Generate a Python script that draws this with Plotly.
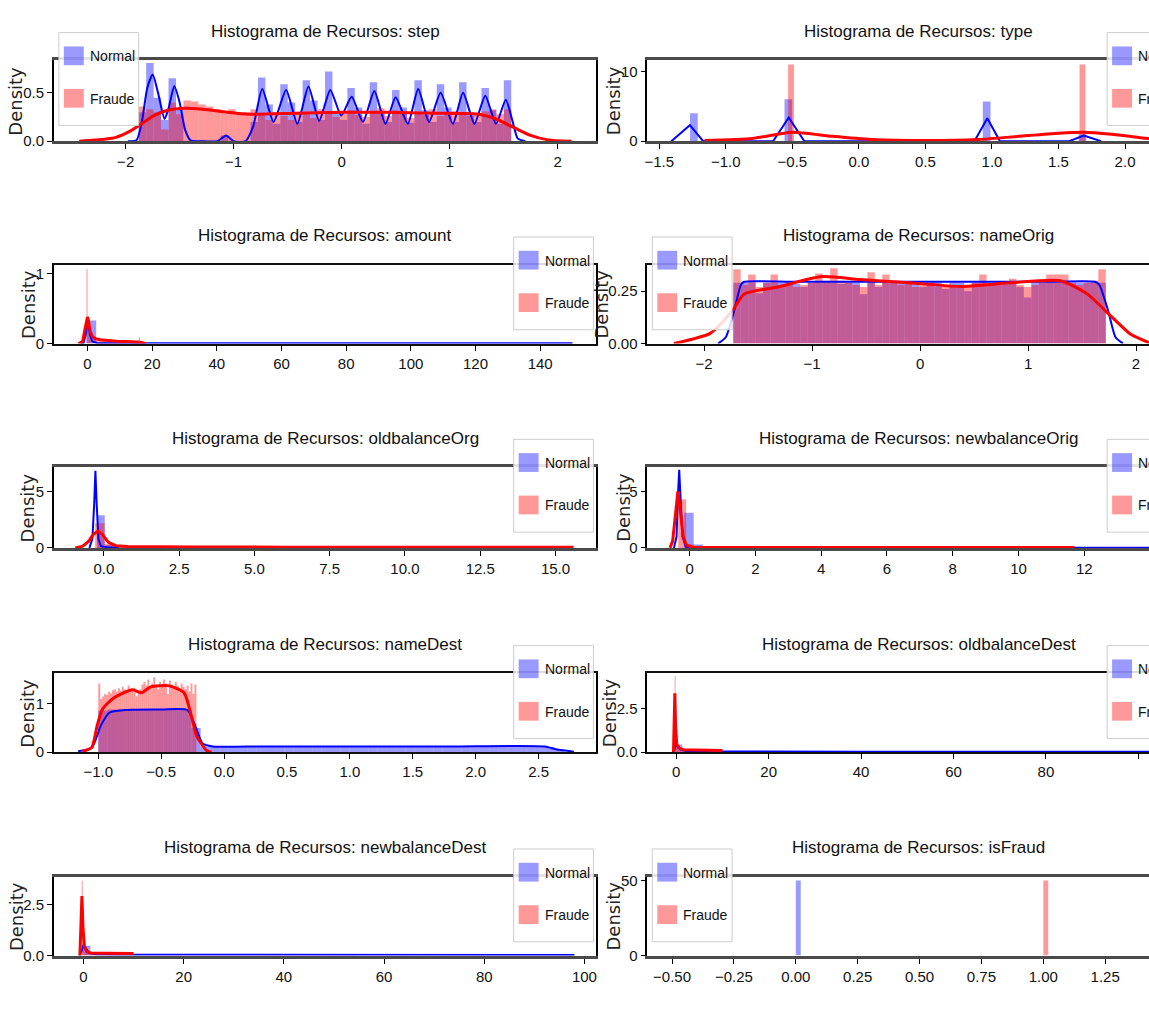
import numpy as np
import plotly.graph_objects as go

W, H = 1149, 1009

# ======================= DATA =======================
FEATURES = ["step", "type", "amount", "nameOrig", "oldbalanceOrg",
            "newbalanceOrig", "nameDest", "oldbalanceDest", "newbalanceDest", "isFraud"]
LABELS = ["Normal", "Fraude"]

# ---- step ----
step_normal_bin_start, step_normal_bin_width = -1.879, 0.069
step_normal_hist = [0.30, 0.81, 0.45, 0.22, 0.65, 0.33, 0.0, 0.0, 0.0, 0.0,
                    0.0, 0.06, 0.0, 0.0, 0.0, 0.20, 0.66, 0.38, 0.18, 0.59,
                    0.40, 0.20, 0.63, 0.42, 0.22, 0.72, 0.30, 0.22, 0.55, 0.35,
                    0.18, 0.61, 0.30, 0.20, 0.53, 0.35, 0.19, 0.63, 0.32, 0.20,
                    0.59, 0.35, 0.20, 0.61, 0.30, 0.20, 0.55, 0.32, 0.18, 0.63]
step_fraud_bin_start, step_fraud_bin_width = -1.879, 0.069
step_fraud_hist = [0.36, 0.33, 0.30, 0.12, 0.40, 0.28, 0.42, 0.41, 0.38, 0.36,
                   0.33, 0.31, 0.33, 0.30, 0.30, 0.33, 0.28, 0.22, 0.30, 0.26,
                   0.22, 0.30, 0.28, 0.24, 0.33, 0.30, 0.25, 0.29, 0.32, 0.27,
                   0.25, 0.31, 0.34, 0.26, 0.32, 0.29, 0.24, 0.30, 0.27, 0.33,
                   0.26, 0.29, 0.31, 0.30, 0.26, 0.28, 0.31, 0.33, 0.28, 0.33]
step_normal_kde_x = [-1.98, -1.90, -1.85, -1.80, -1.75, -1.70, -1.64, -1.60, -1.55, -1.50,
                     -1.45, -1.40, -1.30, -1.15, -1.07, -1.00, -0.89, -0.82, -0.735, -0.63,
                     -0.514, -0.41, -0.307, -0.208, -0.105, -0.003, 0.093, 0.198, 0.303, 0.406,
                     0.50, 0.613, 0.709, 0.81, 0.917, 1.03, 1.125, 1.23, 1.33, 1.43,
                     1.52, 1.58, 1.63, 1.70]
step_normal_kde_y = [0.0, 0.01, 0.20, 0.55, 0.69, 0.50, 0.23, 0.35, 0.57, 0.40,
                     0.12, 0.01, 0.0, 0.0, 0.06, 0.0, 0.0, 0.15, 0.54, 0.20,
                     0.53, 0.18, 0.565, 0.21, 0.53, 0.265, 0.46, 0.20, 0.52, 0.18,
                     0.455, 0.18, 0.54, 0.20, 0.50, 0.18, 0.50, 0.18, 0.47, 0.18,
                     0.43, 0.22, 0.03, 0.0]
step_fraud_kde_x = [-2.43, -2.2, -2.09, -1.95, -1.88, -1.80, -1.73, -1.61, -1.45, -1.29, -1.06,
                    -0.87, -0.43, -0.01, 0.41, 0.85, 1.27, 1.43, 1.59, 1.75, 1.91, 2.13]
step_fraud_kde_y = [0.0, 0.02, 0.04, 0.11, 0.16, 0.22, 0.27, 0.32, 0.34, 0.33, 0.30,
                    0.28, 0.29, 0.30, 0.30, 0.29, 0.28, 0.23, 0.145, 0.06, 0.014, 0.0]

# ---- type ----
type_normal_bar_x = [-1.24, -0.53, 0.96, 1.68]
type_normal_bar_h = [4.0, 6.0, 5.7, 1.0]
type_normal_bar_width = 0.058
type_fraud_bar_x = [-0.51, 1.68]
type_fraud_bar_h = [11.0, 11.0]
type_fraud_bar_width = 0.044
type_normal_kde_x = [-1.41, -1.27, -1.17, -0.645, -0.527, -0.41, 0.868, 0.965, 1.06, 1.58, 1.69, 1.82]
type_normal_kde_y = [0.0, 2.3, 0.0, 0.0, 3.4, 0.0, 0.0, 3.3, 0.0, 0.0, 0.8, 0.0]
type_fraud_kde_x = [-1.16, -0.8, -0.5, -0.2, 0.1, 0.5, 0.9, 1.2, 1.5, 1.69, 1.9, 2.1, 2.2, 2.35, 2.49]
type_fraud_kde_y = [0.1, 0.4, 1.3, 0.7, 0.25, 0.1, 0.25, 0.7, 1.15, 1.3, 1.0, 0.55, 0.35, 0.15, 0.03]

# ---- amount ----
amount_normal_bin_start, amount_normal_bin_width = -0.3, 3.0
amount_normal_hist = [0.33, 0.012, 0.005, 0.003, 0.002, 0.0015, 0.001, 0.001, 0.001, 0.0008,
                      0.0008, 0.0007, 0.0006, 0.0006, 0.0005, 0.0005, 0.0005, 0.0004, 0.0004, 0.0004,
                      0.0003, 0.0003, 0.0003, 0.0003, 0.0003, 0.0002, 0.0002, 0.0002, 0.0002, 0.0002,
                      0.0002, 0.0002, 0.0001, 0.0001, 0.0001, 0.0001, 0.0001, 0.0001, 0.0001, 0.0001,
                      0.0001, 0.0001, 0.0001, 0.0001, 0.0001, 0.0001, 0.0001, 0.0001, 0.0001, 0.0001]
amount_fraud_bin_start, amount_fraud_bin_width = -0.3, 0.33
amount_fraud_hist = [1.07, 0.30, 0.20, 0.14, 0.11, 0.09, 0.08, 0.07, 0.065, 0.06,
                     0.055, 0.05, 0.05, 0.045, 0.045, 0.04, 0.04, 0.04, 0.035, 0.035,
                     0.035, 0.03, 0.03, 0.03, 0.03, 0.028, 0.028, 0.026, 0.026, 0.025,
                     0.025, 0.024, 0.023, 0.023, 0.022, 0.022, 0.021, 0.021, 0.02, 0.02,
                     0.02, 0.019, 0.019, 0.018, 0.018, 0.018, 0.017, 0.017, 0.04, 0.09]
amount_normal_kde_x = [-2.0, -1.2, -0.6, -0.2, 0.0, 0.3, 0.8, 1.5, 3.0, 10.0, 30.0, 60.0, 100.0, 150.0]
amount_normal_kde_y = [0.0, 0.01, 0.12, 0.27, 0.30, 0.26, 0.12, 0.03, 0.01, 0.006, 0.004, 0.004, 0.004, 0.004]
amount_fraud_kde_x = [-2.8, -1.5, -0.8, -0.3, 0.0, 0.3, 0.8, 1.5, 2.5, 4.0, 6.0, 9.0, 12.0, 15.0, 16.5, 18.0]
amount_fraud_kde_y = [0.0, 0.03, 0.2, 0.35, 0.38, 0.33, 0.18, 0.1, 0.07, 0.055, 0.045, 0.035, 0.03, 0.03, 0.02, 0.0]

# ---- nameOrig ----
nameOrig_normal_bin_start, nameOrig_normal_bin_width = -1.73, 0.069
nameOrig_normal_hist = [0.29, 0.29, 0.29, 0.24, 0.29, 0.29, 0.29, 0.29, 0.285, 0.27,
                        0.29, 0.29, 0.29, 0.29, 0.285, 0.29, 0.29, 0.235, 0.29, 0.27,
                        0.29, 0.29, 0.29, 0.29, 0.29, 0.27, 0.29, 0.29, 0.26, 0.29,
                        0.29, 0.25, 0.29, 0.29, 0.29, 0.29, 0.285, 0.29, 0.27, 0.22,
                        0.29, 0.29, 0.29, 0.29, 0.29, 0.29, 0.29, 0.29, 0.29, 0.29]
nameOrig_fraud_bin_start, nameOrig_fraud_bin_width = -1.73, 0.069
nameOrig_fraud_hist = [0.355, 0.28, 0.33, 0.27, 0.29, 0.33, 0.28, 0.29, 0.27, 0.28,
                       0.29, 0.335, 0.30, 0.36, 0.30, 0.29, 0.28, 0.27, 0.34, 0.28,
                       0.33, 0.29, 0.28, 0.29, 0.27, 0.28, 0.29, 0.27, 0.28, 0.27,
                       0.28, 0.27, 0.29, 0.33, 0.28, 0.28, 0.28, 0.31, 0.28, 0.27,
                       0.28, 0.29, 0.33, 0.33, 0.33, 0.29, 0.28, 0.29, 0.30, 0.355]
nameOrig_normal_kde_x = [-1.87, -1.80, -1.72, -1.66, -1.63, -1.2, -0.6, 0.0, 0.6, 1.2, 1.62, 1.66, 1.74, 1.81, 1.88]
nameOrig_normal_kde_y = [0.0, 0.03, 0.16, 0.28, 0.295, 0.295, 0.295, 0.295, 0.295, 0.295, 0.295, 0.28, 0.16, 0.03, 0.0]
nameOrig_fraud_kde_x = [-2.28, -1.94, -1.74, -1.63, -1.32, -0.91, -0.56, -0.10, 0.37, 0.835, 1.30, 1.55, 1.77, 1.95, 2.12]
nameOrig_fraud_kde_y = [0.0, 0.05, 0.156, 0.236, 0.27, 0.32, 0.306, 0.29, 0.273, 0.29, 0.30, 0.236, 0.13, 0.045, 0.005]

# ---- oldbalanceOrg ----
oldbalanceOrg_normal_bin_start, oldbalanceOrg_normal_bin_width = -0.23, 0.26
oldbalanceOrg_normal_hist = [2.9, 0.3, 0.12, 0.07, 0.05, 0.04, 0.03, 0.025, 0.02, 0.02,
                             0.015, 0.015, 0.012, 0.01, 0.01, 0.008, 0.008, 0.007, 0.006, 0.006]
oldbalanceOrg_fraud_bin_start, oldbalanceOrg_fraud_bin_width = -0.29, 0.317
oldbalanceOrg_fraud_hist = [2.2, 0.3, 0.15, 0.11, 0.09, 0.08, 0.075, 0.07, 0.07, 0.065,
                            0.065, 0.06, 0.06, 0.06, 0.058, 0.058, 0.056, 0.055, 0.055, 0.054,
                            0.053, 0.052, 0.052, 0.051, 0.05, 0.05, 0.05, 0.05, 0.049, 0.049,
                            0.048, 0.048, 0.047, 0.047, 0.046, 0.046, 0.046, 0.045, 0.045, 0.045,
                            0.044, 0.044, 0.044, 0.043, 0.043, 0.043, 0.042, 0.042, 0.042, 0.05]
oldbalanceOrg_normal_kde_x = [-0.48, -0.38, -0.32, -0.28, -0.24, -0.18, -0.1, 0.1, 0.5]
oldbalanceOrg_normal_kde_y = [0.0, 0.8, 4.0, 6.85, 4.0, 0.8, 0.15, 0.06, 0.03]
oldbalanceOrg_fraud_kde_x = [-0.95, -0.7, -0.5, -0.35, -0.2, -0.05, 0.15, 0.4, 0.8, 1.5, 3.0, 6.0, 10.0, 15.6]
oldbalanceOrg_fraud_kde_y = [0.0, 0.15, 0.6, 1.2, 1.5, 1.2, 0.5, 0.2, 0.12, 0.1, 0.08, 0.07, 0.06, 0.05]

# ---- newbalanceOrig ----
newbalanceOrig_normal_bin_start, newbalanceOrig_normal_bin_width = -0.17, 0.29
newbalanceOrig_normal_hist = [3.1, 0.3, 0.12, 0.08, 0.05, 0.04, 0.035, 0.03, 0.03, 0.025,
                              0.025, 0.02, 0.02, 0.02, 0.018, 0.018, 0.016, 0.016, 0.015, 0.015,
                              0.014, 0.014, 0.013, 0.013, 0.012, 0.012, 0.012, 0.011, 0.011, 0.011,
                              0.01, 0.01, 0.01, 0.01, 0.01, 0.01, 0.009, 0.009, 0.009, 0.009,
                              0.009, 0.009, 0.008, 0.008, 0.008, 0.008, 0.008, 0.008, 0.008, 0.008, 0.008]
newbalanceOrig_fraud_bin_start, newbalanceOrig_fraud_bin_width = -0.35, 0.24
newbalanceOrig_fraud_hist = [4.3, 0.3, 0.1, 0.06, 0.05, 0.045, 0.04, 0.04, 0.038, 0.036,
                             0.035, 0.034, 0.033, 0.032, 0.032, 0.031, 0.031, 0.03, 0.03, 0.03,
                             0.03, 0.029, 0.029, 0.029, 0.028, 0.028, 0.028, 0.028, 0.027, 0.027,
                             0.027, 0.027, 0.026, 0.026, 0.026, 0.026, 0.026, 0.025, 0.025, 0.025,
                             0.025, 0.025, 0.025, 0.024, 0.024, 0.024, 0.024, 0.024, 0.024, 0.024]
newbalanceOrig_normal_kde_x = [-0.48, -0.40, -0.36, -0.32, -0.28, -0.22, -0.12, 0.2, 2.0, 6.0, 10.0, 14.1]
newbalanceOrig_normal_kde_y = [0.0, 1.0, 4.5, 6.9, 4.5, 1.0, 0.1, 0.05, 0.03, 0.02, 0.02, 0.02]
newbalanceOrig_fraud_kde_x = [-0.6, -0.52, -0.45, -0.36, -0.28, -0.2, -0.1, 0.1, 1.0, 4.0, 8.0, 11.7]
newbalanceOrig_fraud_kde_y = [0.0, 0.6, 2.5, 5.0, 3.2, 1.0, 0.25, 0.06, 0.04, 0.03, 0.03, 0.03]

# ---- nameDest ----
nameDest_normal_bin_start, nameDest_normal_bin_width = -1.0, 0.074
nameDest_normal_hist = [0.86, 0.88, 0.88, 0.89, 0.88, 0.88, 0.89, 0.88, 0.88, 0.87,
                        0.50, 0.12, 0.11, 0.12, 0.11, 0.12, 0.11, 0.12, 0.12, 0.11,
                        0.12, 0.11, 0.12, 0.12, 0.11, 0.12, 0.11, 0.12, 0.11, 0.12,
                        0.12, 0.11, 0.12, 0.11, 0.12, 0.12, 0.11, 0.12, 0.11, 0.12,
                        0.11, 0.12, 0.12, 0.11, 0.12, 0.11, 0.12, 0.12, 0.11, 0.06]
nameDest_fraud_bin_start, nameDest_fraud_bin_width = -1.0, 0.0156
nameDest_fraud_hist = [1.42, 1.10, 1.15, 1.20, 1.18, 1.25, 1.22, 1.28, 1.30, 1.25,
                       1.32, 1.27, 1.35, 1.30, 1.22, 1.38, 1.30, 1.28, 1.33, 1.15,
                       1.25, 1.30, 1.40, 1.45, 1.38, 1.50, 1.35, 1.42, 1.55, 1.40,
                       1.30, 1.45, 1.38, 1.50, 1.42, 1.20, 1.48, 1.40, 1.35, 1.45,
                       1.38, 1.30, 1.42, 1.35, 1.30, 1.38, 1.25, 1.42, 1.20, 1.40]
nameDest_normal_kde_x = [-1.16, -1.05, -0.98, -0.91, -0.79, -0.5, -0.29, -0.23, -0.17, -0.09,
                         0.3, 1.0, 1.8, 2.55, 2.64, 2.78]
nameDest_normal_kde_y = [0.02, 0.10, 0.55, 0.82, 0.87, 0.88, 0.87, 0.55, 0.18, 0.12,
                         0.12, 0.12, 0.12, 0.12, 0.06, 0.01]
nameDest_fraud_kde_x = [-1.126, -1.052, -1.009, -0.964, -0.877, -0.73, -0.655, -0.583, -0.435,
                        -0.318, -0.26, -0.22, -0.14, -0.10]
nameDest_fraud_kde_y = [0.02, 0.10, 0.55, 0.90, 1.12, 1.29, 1.23, 1.35, 1.37,
                        1.23, 0.75, 0.35, 0.04, 0.0]

# ---- oldbalanceDest ----
oldbalanceDest_normal_bin_start, oldbalanceDest_normal_bin_width = -0.3, 1.6
oldbalanceDest_normal_hist = [0.45, 0.08, 0.04, 0.03, 0.025, 0.02, 0.02, 0.02, 0.018, 0.018,
                              0.017, 0.016, 0.016, 0.015, 0.015, 0.015, 0.014, 0.014, 0.014, 0.013,
                              0.013, 0.013, 0.013, 0.012, 0.012, 0.012, 0.012, 0.012, 0.011, 0.011,
                              0.011, 0.011, 0.011, 0.011, 0.01, 0.01, 0.01, 0.01, 0.01, 0.01,
                              0.01, 0.01, 0.01, 0.01, 0.01, 0.01, 0.01, 0.01, 0.01, 0.01,
                              0.01, 0.01, 0.01, 0.01, 0.01, 0.01, 0.01, 0.01, 0.01, 0.01,
                              0.01, 0.01, 0.01, 0.01, 0.01]
oldbalanceDest_fraud_bin_start, oldbalanceDest_fraud_bin_width = -0.35, 0.21
oldbalanceDest_fraud_hist = [4.4, 0.35, 0.2, 0.16, 0.15, 0.14, 0.14, 0.13, 0.13, 0.13,
                             0.13, 0.125, 0.125, 0.12, 0.12, 0.12, 0.12, 0.12, 0.115, 0.115,
                             0.115, 0.115, 0.11, 0.11, 0.11, 0.11, 0.11, 0.11, 0.105, 0.105,
                             0.105, 0.105, 0.105, 0.1, 0.1, 0.1, 0.1, 0.1, 0.1, 0.1,
                             0.1, 0.1, 0.1, 0.1, 0.1, 0.1, 0.1, 0.1, 0.1, 0.1]
oldbalanceDest_normal_kde_x = [-0.6, -0.3, 0.0, 0.4, 1.0, 2.5, 10.0, 40.0, 70.0, 102.5]
oldbalanceDest_normal_kde_y = [0.0, 0.2, 0.45, 0.35, 0.15, 0.06, 0.04, 0.03, 0.03, 0.03]
oldbalanceDest_fraud_kde_x = [-0.6, -0.45, -0.3, -0.15, 0.1, 0.5, 1.5, 4.0, 7.0, 10.0]
oldbalanceDest_fraud_kde_y = [0.0, 1.5, 3.4, 1.6, 0.5, 0.25, 0.15, 0.13, 0.12, 0.1]

# ---- newbalanceDest ----
newbalanceDest_normal_bin_start, newbalanceDest_normal_bin_width = -0.2, 1.6
newbalanceDest_normal_hist = [0.48, 0.08, 0.04, 0.03, 0.025, 0.02, 0.02, 0.02, 0.018, 0.018,
                              0.017, 0.016, 0.016, 0.015, 0.015, 0.015, 0.014, 0.014, 0.014, 0.013,
                              0.013, 0.013, 0.013, 0.012, 0.012, 0.012, 0.012, 0.012, 0.011, 0.011,
                              0.011, 0.011, 0.011, 0.011, 0.01, 0.01, 0.01, 0.01, 0.01, 0.01,
                              0.01, 0.01, 0.01, 0.01, 0.01, 0.01, 0.01, 0.01, 0.01, 0.01,
                              0.01, 0.01, 0.01, 0.01, 0.01, 0.01, 0.01, 0.01, 0.01, 0.01, 0.01]
newbalanceDest_fraud_bin_start, newbalanceDest_fraud_bin_width = -0.35, 0.21
newbalanceDest_fraud_hist = [3.65, 0.3, 0.18, 0.14, 0.13, 0.12, 0.12, 0.12, 0.115, 0.115,
                             0.11, 0.11, 0.11, 0.11, 0.105, 0.105, 0.105, 0.1, 0.1, 0.1,
                             0.1, 0.1, 0.1, 0.095, 0.095, 0.095, 0.095, 0.095, 0.09, 0.09,
                             0.09, 0.09, 0.09, 0.09, 0.09, 0.09, 0.085, 0.085, 0.085, 0.085,
                             0.085, 0.085, 0.085, 0.085, 0.085, 0.08, 0.08, 0.08, 0.08, 0.08]
newbalanceDest_normal_kde_x = [-0.8, -0.3, 0.0, 0.4, 1.0, 2.5, 10.0, 40.0, 70.0, 98.0]
newbalanceDest_normal_kde_y = [0.0, 0.25, 0.5, 0.4, 0.15, 0.06, 0.04, 0.03, 0.03, 0.03]
newbalanceDest_fraud_kde_x = [-0.7, -0.5, -0.3, -0.1, 0.2, 0.6, 1.5, 4.0, 7.0, 10.0]
newbalanceDest_fraud_kde_y = [0.0, 1.3, 2.9, 1.4, 0.45, 0.2, 0.13, 0.12, 0.11, 0.1]

# ---- isFraud ----
isFraud_normal_bar_x = [0.01]
isFraud_normal_bar_h = [50.0]
isFraud_normal_bar_width = 0.02
isFraud_fraud_bar_x = [1.01]
isFraud_fraud_bar_h = [50.0]
isFraud_fraud_bar_width = 0.02

# ======================= LAYOUT SPEC =======================
ROW_PX = [(56, 138), (263, 343), (468, 550), (677, 757), (883, 963)]   # top, bottom
COL_PX = [(51, 595), (646, 1190)]                                       # left, right (right col runs off the page)
ROW_XLINE = [(3.0, "#4a4a4a"), (2.0, "#111"), (3.0, "#4a4a4a"), (2.0, "#111"), (3.0, "#4a4a4a")]

FONT = "Liberation Sans, Arial, Helvetica, sans-serif"
C_NORMAL_BAR = "rgba(0,0,255,0.4)"
C_FRAUD_BAR = "rgba(255,0,0,0.4)"


def centers(start, width, n):
    return list(start + width * (np.arange(n) + 0.5))


def binned(start, width, hist):
    return centers(start, width, len(hist)), hist, width


PANELS = [
    dict(name="step",
         normal=binned(step_normal_bin_start, step_normal_bin_width, step_normal_hist),
         fraud=binned(step_fraud_bin_start, step_fraud_bin_width, step_fraud_hist),
         nk=(step_normal_kde_x, step_normal_kde_y), fk=(step_fraud_kde_x, step_fraud_kde_y),
         xr=[-2.665, 2.36], dtick=1, xfmt="", yr=[0, 0.837], yt=[0, 0.5], yfmt=".1f",
         leg="ul", dens=13, shape="spline"),
    dict(name="type",
         normal=(type_normal_bar_x, type_normal_bar_h, type_normal_bar_width),
         fraud=(type_fraud_bar_x, type_fraud_bar_h, type_fraud_bar_width),
         nk=(type_normal_kde_x, type_normal_kde_y), fk=(type_fraud_kde_x, type_fraud_kde_y),
         xr=[-1.59, 2.18], dtick=0.5, xfmt=".1f", yr=[0, 11.6], yt=[0, 10], yfmt="",
         leg="ur", dens=612, shape="linear", fshape="spline"),
    dict(name="amount",
         normal=binned(amount_normal_bin_start, amount_normal_bin_width, amount_normal_hist),
         fraud=binned(amount_fraud_bin_start, amount_fraud_bin_width, amount_fraud_hist),
         nk=(amount_normal_kde_x, amount_normal_kde_y), fk=(amount_fraud_kde_x, amount_fraud_kde_y),
         xr=[-10.4, 157.4], dtick=20, xfmt="", yr=[0, 1.13], yt=[0, 1], yfmt="",
         leg="ur", dens=25, shape="linear"),
    dict(name="nameOrig",
         normal=binned(nameOrig_normal_bin_start, nameOrig_normal_bin_width, nameOrig_normal_hist),
         fraud=binned(nameOrig_fraud_bin_start, nameOrig_fraud_bin_width, nameOrig_fraud_hist),
         nk=(nameOrig_normal_kde_x, nameOrig_normal_kde_y), fk=(nameOrig_fraud_kde_x, nameOrig_fraud_kde_y),
         xr=[-2.526, 2.12], dtick=1, xfmt="", yr=[0, 0.377], yt=[0, 0.25], yfmt=".2f",
         leg="ul", dens=600, shape="spline"),
    dict(name="oldbalanceOrg",
         normal=binned(oldbalanceOrg_normal_bin_start, oldbalanceOrg_normal_bin_width, oldbalanceOrg_normal_hist),
         fraud=binned(oldbalanceOrg_fraud_bin_start, oldbalanceOrg_fraud_bin_width, oldbalanceOrg_fraud_hist),
         nk=(oldbalanceOrg_normal_kde_x, oldbalanceOrg_normal_kde_y),
         fk=(oldbalanceOrg_fraud_kde_x, oldbalanceOrg_fraud_kde_y),
         xr=[-1.66, 16.36], dtick=2.5, xfmt=".1f", yr=[0, 7.2], yt=[0, 5], yfmt="",
         leg="ur", dens=25, shape="linear"),
    dict(name="newbalanceOrig",
         normal=binned(newbalanceOrig_normal_bin_start, newbalanceOrig_normal_bin_width, newbalanceOrig_normal_hist),
         fraud=binned(newbalanceOrig_fraud_bin_start, newbalanceOrig_fraud_bin_width, newbalanceOrig_fraud_hist),
         nk=(newbalanceOrig_normal_kde_x, newbalanceOrig_normal_kde_y),
         fk=(newbalanceOrig_fraud_kde_x, newbalanceOrig_fraud_kde_y),
         xr=[-1.29, 13.97], dtick=2, xfmt="", yr=[0, 7.15], yt=[0, 5], yfmt="",
         leg="ur", dens=622, shape="linear"),
    dict(name="nameDest",
         normal=binned(nameDest_normal_bin_start, nameDest_normal_bin_width, nameDest_normal_hist),
         fraud=binned(nameDest_fraud_bin_start, nameDest_fraud_bin_width, nameDest_fraud_hist),
         nk=(nameDest_normal_kde_x, nameDest_normal_kde_y), fk=(nameDest_fraud_kde_x, nameDest_fraud_kde_y),
         xr=[-1.353, 2.96], dtick=0.5, xfmt=".1f", yr=[0, 1.63], yt=[0, 1], yfmt="",
         leg="ur", dens=25, shape="spline"),
    dict(name="oldbalanceDest",
         normal=binned(oldbalanceDest_normal_bin_start, oldbalanceDest_normal_bin_width, oldbalanceDest_normal_hist),
         fraud=binned(oldbalanceDest_fraud_bin_start, oldbalanceDest_fraud_bin_width, oldbalanceDest_fraud_hist),
         nk=(oldbalanceDest_normal_kde_x, oldbalanceDest_normal_kde_y),
         fk=(oldbalanceDest_fraud_kde_x, oldbalanceDest_fraud_kde_y),
         xr=[-6.26, 102.3], dtick=20, xfmt="", yr=[0, 4.55], yt=[0, 2.5], yfmt=".1f",
         leg="ur", dens=608, shape="linear"),
    dict(name="newbalanceDest",
         normal=binned(newbalanceDest_normal_bin_start, newbalanceDest_normal_bin_width, newbalanceDest_normal_hist),
         fraud=binned(newbalanceDest_fraud_bin_start, newbalanceDest_fraud_bin_width, newbalanceDest_fraud_hist),
         nk=(newbalanceDest_normal_kde_x, newbalanceDest_normal_kde_y),
         fk=(newbalanceDest_fraud_kde_x, newbalanceDest_fraud_kde_y),
         xr=[-5.9, 102.4], dtick=20, xfmt="", yr=[0, 3.85], yt=[0, 2.5], yfmt=".1f",
         leg="ur", dens=13, shape="linear"),
    dict(name="isFraud",
         normal=(isFraud_normal_bar_x, isFraud_normal_bar_h, isFraud_normal_bar_width),
         fraud=(isFraud_fraud_bar_x, isFraud_fraud_bar_h, isFraud_fraud_bar_width),
         nk=None, fk=None,
         xr=[-0.60, 1.427], dtick=0.25, xfmt=".2f", yr=[0, 52.5], yt=[0, 50], yfmt="",
         leg="ul", dens=612, shape="linear"),
]

# ======================= BUILD FIGURE =======================
fig = go.Figure()
layout = dict(width=W, height=H, margin=dict(l=0, r=0, t=0, b=0),
              paper_bgcolor="white", plot_bgcolor="white", barmode="overlay",
              showlegend=False, hovermode=False)
shapes, annotations = [], []


def px_x(p):
    return p / W


def px_y(p):
    return 1 - p / H


for i, P in enumerate(PANELS):
    r, c = divmod(i, 2)
    top, bot = ROW_PX[r]
    left, right = COL_PX[c]
    lw, lc = ROW_XLINE[r]
    k = "" if i == 0 else str(i + 1)
    xa, ya = "x" + k, "y" + k

    layout["xaxis" + k] = dict(
        domain=[px_x(left), min(1.0, px_x(right))], anchor=ya, range=P["xr"],
        tickmode="linear", tick0=0, dtick=P["dtick"], tickformat=P["xfmt"],
        ticks="outside", ticklen=5, tickwidth=1.2, tickcolor="#000",
        showline=True, linecolor=lc, linewidth=lw, mirror=True,
        showgrid=False, zeroline=False,
        tickfont=dict(family=FONT, size=15, color="#111"))
    layout["yaxis" + k] = dict(
        domain=[px_y(bot), px_y(top)], anchor=xa, range=P["yr"],
        tickmode="array", tickvals=P["yt"], tickformat=P["yfmt"],
        ticks="outside", ticklen=5, tickwidth=1.2, tickcolor="#000",
        showline=True, linecolor="#000", linewidth=1.5, mirror=(c == 0),
        showgrid=False, zeroline=False,
        tickfont=dict(family=FONT, size=15, color="#111"))

    # Normal: histogram + KDE, then Fraude: histogram + KDE (seaborn draw order)
    nx, nh, nw = P["normal"]
    fig.add_trace(go.Bar(x=nx, y=nh, width=nw, name=LABELS[0], xaxis=xa, yaxis=ya,
                         marker=dict(color=C_NORMAL_BAR, line=dict(width=0))))
    if P["nk"]:
        fig.add_trace(go.Scatter(x=P["nk"][0], y=P["nk"][1], mode="lines", name=LABELS[0],
                                 xaxis=xa, yaxis=ya,
                                 line=dict(color="blue", width=2, shape=P["shape"], smoothing=0.6)))
    fx, fh, fw = P["fraud"]
    fig.add_trace(go.Bar(x=fx, y=fh, width=fw, name=LABELS[1], xaxis=xa, yaxis=ya,
                         marker=dict(color=C_FRAUD_BAR, line=dict(width=0))))
    if P["fk"]:
        fig.add_trace(go.Scatter(x=P["fk"][0], y=P["fk"][1], mode="lines", name=LABELS[1],
                                 xaxis=xa, yaxis=ya,
                                 line=dict(color="red", width=3, shape=P.get("fshape", P["shape"]),
                                           smoothing=0.6)))

    # title
    annotations.append(dict(text="Histograma de Recursos: " + P["name"], xref="paper", yref="paper",
                            x=px_x((left + right) / 2), y=px_y(top - 29), xanchor="center",
                            yanchor="middle", showarrow=False,
                            font=dict(family=FONT, size=17, color="#111")))
    # y label
    annotations.append(dict(text="Density", xref="paper", yref="paper", x=px_x(P["dens"]),
                            y=px_y((top + bot) / 2), xanchor="center", yanchor="middle",
                            textangle=-90, showarrow=False,
                            font=dict(family="DejaVu Sans", size=18, color="#222")))

    # legend box (drawn like matplotlib's)
    BW = 80
    bl = left + 5 if P["leg"] == "ul" else right - 3 - BW
    bt = top - 28
    shapes.append(dict(type="rect", xref="paper", yref="paper", layer="above",
                       x0=px_x(bl), x1=px_x(bl + BW), y0=px_y(bt + 94), y1=px_y(bt),
                       fillcolor="rgba(255,255,255,0.85)", line=dict(color="rgba(200,200,200,0.9)", width=1)))
    for j, (lab, col) in enumerate(zip(LABELS, [C_NORMAL_BAR, C_FRAUD_BAR])):
        py = bt + 14 + 43 * j
        shapes.append(dict(type="rect", xref="paper", yref="paper", layer="above",
                           x0=px_x(bl + 5), x1=px_x(bl + 25), y0=px_y(py + 19), y1=px_y(py),
                           fillcolor=col, line=dict(width=0)))
        annotations.append(dict(text=lab, xref="paper", yref="paper", x=px_x(bl + 29),
                                y=px_y(py + 10), xanchor="left", yanchor="middle", showarrow=False,
                                font=dict(family=FONT, size=14, color="#111")))

layout["shapes"] = shapes
layout["annotations"] = annotations
fig.update_layout(**layout)
fig.write_html("out.html", config={"displayModeBar": False},
               post_script="document.body.style.margin='0px';")
